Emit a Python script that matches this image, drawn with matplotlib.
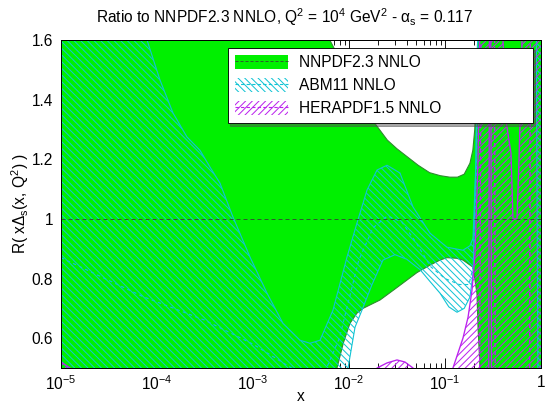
import numpy as np
import matplotlib
matplotlib.use("Agg")
import matplotlib.pyplot as plt
from matplotlib.patches import Patch
from matplotlib.lines import Line2D
from matplotlib.ticker import FixedLocator, FixedFormatter, MultipleLocator

plt.rcParams['font.family'] = ['Liberation Sans', 'DejaVu Sans']
plt.rcParams['mathtext.fontset'] = 'custom'
plt.rcParams['mathtext.rm'] = 'Liberation Sans'
plt.rcParams['mathtext.it'] = 'Liberation Sans'
plt.rcParams['mathtext.bf'] = 'Liberation Sans:bold'
plt.rcParams['hatch.linewidth'] = 0.9

# values; x given as log10(x)
# NNPDF2.3 NNLO band
nn_hi_lx = [-5, -2.5, -2.2, -2.04, -1.885, -1.73, -1.6, -1.5, -1.4, -1.28, -1.16, -1.05,
            -0.95, -0.87, -0.8, -0.74, -0.71, -0.69, -0.675, -0.66, -0.64, 0]
nn_hi = [2.0, 1.9, 1.6, 1.5, 1.41, 1.32, 1.264, 1.235, 1.21, 1.18, 1.155, 1.145,
         1.14, 1.14, 1.15, 1.187, 1.23, 1.3, 1.42, 1.6, 2.0, 2.0]
nn_lo_lx = [-5, -2.17, -2.125, -2.06, -1.99, -1.917, -1.854, -1.677, -1.5, -1.292, -1.156,
            -1.052, -0.979, -0.88, -0.813, -0.708, -0.667, -0.656, -0.635, -0.6, 0]
nn_lo = [0.3, 0.3, 0.5, 0.583, 0.65, 0.684, 0.70, 0.728, 0.77, 0.82, 0.845,
         0.862, 0.87, 0.868, 0.862, 0.838, 0.75, 0.637, 0.5, 0.3, 0.3]

# ABM11 NNLO band
ab_hi_lx = [-5, -4.104, -3.969, -3.833, -3.688, -3.552, -3.45, -3.344, -3.208, -3.031, -2.854,
            -2.688, -2.51, -2.406, -2.302, -2.167, -2.021, -1.917, -1.812, -1.708, -1.604,
            -1.469, -1.333, -1.156, -0.979, -0.813, -0.74, -0.708, -0.677, -0.656, 0]
ab_hi = [2.2, 1.6, 1.466, 1.355, 1.275, 1.23, 1.175, 1.12, 1.006, 0.872, 0.751,
         0.65, 0.593, 0.583, 0.593, 0.694, 0.872, 0.986, 1.097, 1.164, 1.18,
         1.154, 1.04, 0.952, 0.905, 0.895, 0.91, 0.935, 1.2, 1.7, 2.0]
ab_lo_lx = [-5, -2.06, -2.01, -1.937, -1.865, -1.76, -1.646, -1.521, -1.4, -1.26, -1.156,
            -1.052, -0.96, -0.875, -0.8, -0.74, -0.708, -0.677, -0.656, -0.05, -0.03, 0]
ab_lo = [0.3, 0.3, 0.5, 0.637, 0.694, 0.78, 0.862, 0.88, 0.865, 0.83, 0.79,
         0.751, 0.705, 0.687, 0.7, 0.738, 0.818, 1.2, 1.7, 1.7, 0.3, 0.3]
ab_mid_lx = [-5, -4.15, -3.5, -3.0, -2.6, -2.3, -2.1, -1.9, -1.75, -1.6, -1.45, -1.3,
             -1.15, -1.0, -0.85, -0.75, -0.7, -0.67, -0.65, 0]
ab_mid = [0.87, 0.74, 0.66, 0.58, 0.5, 0.45, 0.6, 0.86, 0.97, 1.01, 0.99, 0.92,
          0.84, 0.8, 0.78, 0.78, 0.85, 1.2, 1.8, 1.8]

# HERAPDF1.5 NNLO band
he_hi_lx = [-5, -4.906, -4.8, -1.75, -1.708, -1.604, -1.5, -1.417, -1.333, -1.29, -0.96,
            -0.917, -0.865, -0.813, -0.76, -0.719, -0.688, -0.656, -0.635, -0.41, -0.396,
            -0.365, -0.3125, -0.292, -0.25, -0.229, -0.208, -0.198, -0.177, 0]
he_hi = [0.52, 0.5, 0.45, 0.45, 0.5, 0.517, 0.527, 0.52, 0.5, 0.45, 0.45,
         0.5, 0.55, 0.6, 0.67, 0.76, 0.88, 1.2, 1.7, 2.0, 1.6,
         1.33, 1.22, 1.0, 1.0, 1.2, 1.45, 1.6, 2.0, 2.0]
he_lo_lx = [-5, -0.545, -0.535, -0.525, -0.515, 0]
he_lo = [0.3, 0.3, 2.0, 2.0, 0.3, 0.3]
he_mid_lx = [-5, -0.64, -0.62, -0.485, -0.475, -0.12, -0.11, 0]
he_mid = [0.4, 0.4, 2.0, 2.0, 0.0, 0.0, 2.0, 2.0]

x_ticks = [1e-5, 1e-4, 1e-3, 1e-2, 1e-1, 1]
x_labels = ['10$^{-5}$', '10$^{-4}$', '10$^{-3}$', '10$^{-2}$', '10$^{-1}$', '1']
y_ticks = [0.6, 0.8, 1.0, 1.2, 1.4, 1.6]
y_labels = ['0.6', '0.8', '1', '1.2', '1.4', '1.6']

green = '#00f000'
green_edge = '#2e8b2e'
cyan = '#11c4d4'
magenta = '#bb22ee'
hatch_ab = '\\' * 4
hatch_he = '/' * 4


def xs(lx):
    return np.power(10.0, np.array(lx))


fig = plt.figure(figsize=(553 / 80, 407 / 80), dpi=80)
ax = fig.add_axes([61 / 553, 39 / 407, 480 / 553, 328 / 407])
ax.set_axisbelow(True)

# NNPDF: solid green band
xg = np.union1d(xs(nn_hi_lx), xs(nn_lo_lx))
ax.fill_between(xg, np.interp(np.log10(xg), nn_lo_lx, nn_lo),
                np.interp(np.log10(xg), nn_hi_lx, nn_hi),
                facecolor=green, linewidth=0, zorder=1)
ax.plot(xs(nn_hi_lx), nn_hi, color=green_edge, lw=1, zorder=1.2)
ax.plot(xs(nn_lo_lx), nn_lo, color=green_edge, lw=1, zorder=1.2)

# ABM: cyan hatch
xa = np.union1d(xs(ab_hi_lx), xs(ab_lo_lx))
ax.fill_between(xa, np.interp(np.log10(xa), ab_lo_lx, ab_lo),
                np.interp(np.log10(xa), ab_hi_lx, ab_hi),
                facecolor='none', edgecolor=cyan, hatch=hatch_ab, linewidth=0, zorder=2)
ax.plot(xs(ab_hi_lx), ab_hi, color=cyan, lw=1, zorder=2.1)
ax.plot(xs(ab_lo_lx), ab_lo, color=cyan, lw=1, zorder=2.1)
ax.plot(xs(ab_mid_lx), ab_mid, color=cyan, lw=1, ls=(0, (3, 3)), zorder=2.2)

# HERAPDF: magenta hatch
xh = np.union1d(xs(he_hi_lx), xs(he_lo_lx))
ax.fill_between(xh, np.interp(np.log10(xh), he_lo_lx, he_lo),
                np.interp(np.log10(xh), he_hi_lx, he_hi),
                facecolor='none', edgecolor=magenta, hatch=hatch_he, linewidth=0, zorder=3)
ax.plot(xs(he_hi_lx), he_hi, color=magenta, lw=1.2, zorder=3.1)
ax.plot(xs(he_lo_lx), he_lo, color=magenta, lw=1.2, zorder=3.1)
ax.plot(xs(he_mid_lx), he_mid, color=magenta, lw=1.2, ls=(0, (3, 3)), zorder=3.2)

# NNPDF central value
ax.axhline(1.0, color='#2f5a2f', lw=0.9, ls=(0, (4, 3)), zorder=4)

ax.set_xscale('log')
ax.set_xlim(1e-5, 1)
ax.set_ylim(0.5, 1.6)
ax.xaxis.set_major_locator(FixedLocator(x_ticks))
ax.xaxis.set_major_formatter(FixedFormatter(x_labels))
ax.yaxis.set_major_locator(FixedLocator(y_ticks))
ax.yaxis.set_major_formatter(FixedFormatter(y_labels))
ax.yaxis.set_minor_locator(MultipleLocator(0.04))
ax.tick_params(which='both', direction='in', top=True, right=True, labelsize=14)
ax.tick_params(which='major', length=9, width=0.8, pad=7)
ax.tick_params(which='minor', length=4.5, width=0.8)
ax.tick_params(axis='x', which='major', pad=6)
for s in ax.spines.values():
    s.set_linewidth(0.9)
    s.set_zorder(5)

fig.text(285 / 553, 1 - 17 / 407,
         r'Ratio to NNPDF2.3 NNLO, Q$^2$ = 10$^4$ GeV$^2$ - $\alpha_s$ = 0.117',
         fontsize=14, ha='center', va='center')
ax.set_xlabel('x', fontsize=14, labelpad=-4)
ax.set_ylabel(r'R( x$\Delta_s$(x, Q$^2$) )', fontsize=14, labelpad=1)

handles = [
    (Patch(facecolor=green, edgecolor='none'), Line2D([], [], color='#2f5a2f', lw=0.9, ls=(0, (3, 2)))),
    (Patch(facecolor='white', edgecolor=cyan, hatch=hatch_ab, linewidth=0), Line2D([], [], color=cyan, lw=1, ls=(0, (3, 2)))),
    (Patch(facecolor='white', edgecolor=magenta, hatch=hatch_he, linewidth=0), Line2D([], [], color=magenta, lw=1, ls=(0, (3, 2)))),
]
labels = ['NNPDF2.3 NNLO', 'ABM11 NNLO', 'HERAPDF1.5 NNLO']
leg = ax.legend(handles, labels, loc='upper left', bbox_to_anchor=(0.348, 0.976, 0.635, 0.0),
                mode='expand', fontsize=14, frameon=True, fancybox=False, shadow=True,
                handlelength=3.4, handleheight=1.0, labelspacing=0.5, borderpad=0.45,
                handletextpad=0.7, borderaxespad=0)
leg.get_frame().set_edgecolor('black')
leg.get_frame().set_linewidth(0.8)
leg.set_zorder(6)

fig.savefig('out.png', dpi=80)
